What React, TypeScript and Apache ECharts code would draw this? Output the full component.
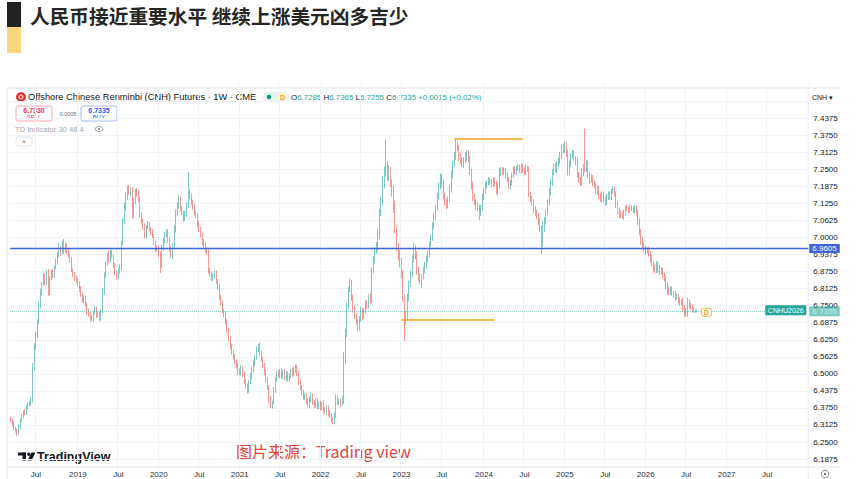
import React, { useEffect, useRef } from 'react';
import * as echarts from 'echarts';

// Weekly closes (CNH futures), grouped by year
const close2018 = [6.330,6.318,6.300,6.292,6.285,6.305,6.330,6.345,6.362,6.355, 6.378,6.392,6.388,6.405,6.520,6.600,6.640,6.690,6.750,6.800, 6.830,6.860,6.835,6.870,6.800,6.850,6.875,6.860,6.890,6.910, 6.935,6.960,6.945,6.975,6.955,6.970,6.950,6.935,6.920,6.880, 6.865,6.850,6.840];
const close2019 = [6.830,6.810,6.790,6.770,6.780,6.755,6.730,6.720,6.705,6.700, 6.725,6.740,6.715,6.720,6.705,6.730,6.800,6.860,6.905,6.935, 6.920,6.945,6.930,6.900,6.870,6.855,6.880,6.890,6.980,7.060, 7.110,7.150,7.180,7.165,7.175,7.080,7.130,7.170,7.160,7.140, 7.085,7.060,7.040,7.005,7.040,7.050,7.030,7.020,7.005,6.980, 6.965,6.960];
const close2020 = [6.940,6.900,6.960,6.990,7.010,7.020,6.990,6.960,6.940,6.970, 7.030,7.090,7.120,7.140,7.105,7.090,7.070,7.085,7.120,7.160, 7.150,7.130,7.110,7.090,7.080,7.050,7.030,7.010,6.985,6.970, 6.955,6.945,6.880,6.865,6.850,6.860,6.870,6.840,6.820,6.780, 6.760,6.730,6.720,6.690,6.660,6.630,6.600,6.580,6.560,6.545, 6.530,6.510];
const close2021 = [6.505,6.520,6.500,6.470,6.455,6.440,6.470,6.490,6.515,6.540, 6.560,6.590,6.600,6.575,6.555,6.530,6.505,6.480,6.450,6.410, 6.385,6.395,6.440,6.480,6.500,6.495,6.510,6.490,6.505,6.485, 6.500,6.480,6.495,6.510,6.500,6.515,6.525,6.500,6.470,6.450, 6.430,6.415,6.420,6.400,6.385,6.405,6.420,6.395,6.385,6.400, 6.380,6.390];
const close2022 = [6.375,6.390,6.370,6.360,6.375,6.355,6.345,6.330,6.325,6.350, 6.410,6.395,6.400,6.390,6.410,6.560,6.650,6.750,6.810,6.830, 6.780,6.740,6.710,6.690,6.670,6.700,6.730,6.710,6.730,6.760, 6.750,6.780,6.770,6.880,6.920,6.950,6.970,7.010,7.090,7.130, 7.200,7.240,7.250,7.230,7.240,7.200,7.170,7.120,7.030,6.970, 6.940,6.910];
const close2023 = [6.870,6.780,6.700,6.710,6.780,6.830,6.870,6.920,6.960,6.940, 6.880,6.860,6.840,6.855,6.880,6.900,6.920,6.940,6.975,7.000, 7.040,7.080,7.110,7.150,7.190,7.220,7.200,7.150,7.130,7.120, 7.140,7.180,7.230,7.270,7.300,7.340,7.330,7.300,7.285,7.270, 7.285,7.300,7.310,7.290,7.240,7.190,7.150,7.130,7.120,7.110, 7.090,7.110];
const close2024 = [7.150,7.170,7.190,7.200,7.210,7.205,7.195,7.210,7.200,7.170, 7.190,7.240,7.250,7.240,7.245,7.230,7.210,7.190,7.200,7.230, 7.250,7.240,7.255,7.260,7.245,7.260,7.250,7.240,7.255,7.250, 7.160,7.140,7.130,7.100,7.090,7.080,7.060,7.030,6.980,7.040, 7.060,7.090,7.130,7.170,7.200,7.240,7.260,7.250,7.270,7.280, 7.300,7.330];
const close2025 = [7.320,7.340,7.310,7.240,7.270,7.300,7.310,7.290,7.280,7.230, 7.210,7.200,7.240,7.260,7.250,7.270,7.230,7.210,7.220,7.200, 7.190,7.170,7.180,7.150,7.140,7.160,7.140,7.130,7.150,7.160, 7.150,7.170,7.175,7.160,7.120,7.100,7.090,7.085,7.080,7.090, 7.110,7.105,7.100,7.110,7.105,7.100,7.110,7.090,7.060,7.020, 6.990,6.970];
const close2026 = [6.960,6.950,6.955,6.940,6.920,6.905,6.890,6.880,6.900,6.890, 6.875,6.880,6.860,6.850,6.820,6.810,6.800,6.810,6.795,6.790, 6.780,6.785,6.770,6.760,6.765,6.740,6.730,6.720,6.760,6.750, 6.745,6.735,6.730,6.7285,6.7335];

// Upper / lower wick lengths beyond the body, in thousandths
const hiWick2018 = [8,6,10,5,7,9,6,8,5,10, 7,6,9,8,20,12,15,10,14,12, 9,11,8,10,15,9,7,10,8,12, 10,18,9,14,20,12,8,10,7,9, 6,8,10];
const loWick2018 = [6,10,8,7,12,5,8,6,9,7, 5,8,6,7,10,8,12,9,8,10, 12,7,9,8,15,10,6,9,8,7, 10,8,12,6,15,9,10,8,12,7, 10,9,8];
const hiWick2019 = [10,8,12,7,9,6,8,10,7,9, 6,8,7,10,8,6,15,12,10,8, 14,9,11,8,7,10,9,12,8,10, 18,15,10,12,8,10,14,9,11,12, 10,8,9,12,7,10,8,9,11,8, 10,7];
const loWick2019 = [8,10,7,9,12,8,15,10,12,8, 9,7,10,8,12,9,7,10,8,9, 12,10,8,11,9,10,7,12,10,8, 9,10,12,8,15,9,10,8,12,9, 11,10,12,8,10,9,8,10,7,9, 20,10];
const hiWick2020 = [10,8,12,9,10,8,12,10,9,11, 15,12,10,14,9,10,8,12,10,80, 15,10,9,12,8,10,12,9,8,10, 11,9,12,8,10,9,12,10,8,11, 10,9,8,10,12,9,8,10,9,12, 8,10];
const loWick2020 = [12,30,10,9,12,8,10,12,15,20, 10,12,9,15,10,8,12,10,9,11, 10,12,8,10,9,12,10,8,15,12, 10,9,12,10,8,9,11,10,12,9, 10,8,12,10,9,11,12,10,8,9, 10,12];
const hiWick2021 = [10,12,8,9,11,10,8,12,9,10, 8,12,10,15,9,8,10,12,9,8, 10,7,12,9,10,15,8,10,9,12, 8,10,7,9,12,10,8,9,11,10, 8,12,10,9,8,10,12,9,8,10, 11,9];
const loWick2021 = [9,10,12,8,10,12,9,8,10,9, 12,8,10,9,11,8,10,12,9,15, 10,12,8,10,9,7,12,8,10,9, 11,8,10,12,9,8,10,9,12,10, 8,9,12,10,8,11,10,9,12,8, 10,9];
const hiWick2022 = [10,8,12,9,10,8,12,9,10,8, 15,10,9,12,10,20,15,12,10,20, 15,10,12,9,10,12,15,10,12,9, 10,12,15,10,12,15,14,20,15,18, 25,20,110,30,25,20,15,20,15,12, 10,15];
const loWick2022 = [10,8,12,9,10,12,8,8,10,9, 12,10,9,12,8,20,25,15,12,10, 12,15,10,9,12,10,8,12,10,9, 12,10,15,10,12,15,10,20,15,12, 15,20,15,20,25,15,20,30,15,20, 25,20];
const hiWick2023 = [15,10,12,20,15,12,10,15,20,12, 10,12,9,10,12,10,15,12,10,12, 15,12,10,14,12,15,12,10,15,12, 10,12,15,12,14,20,15,10,12,9, 10,15,12,10,8,12,15,10,12,10, 12,10];
const loWick2023 = [20,15,80,20,15,12,10,15,12,20, 15,20,12,25,10,12,15,10,12,10, 12,10,15,12,10,12,15,10,12,15, 12,10,15,12,10,15,12,20,15,12, 15,12,20,15,10,12,15,12,20,15, 25,12];
const hiWick2024 = [12,10,15,10,12,8,10,12,9,10, 12,15,10,8,12,10,9,12,10,8, 10,12,8,10,9,12,10,8,12,9, 10,8,12,10,15,12,10,12,15,20, 15,12,10,12,15,10,12,14,10,12, 15,12];
const loWick2024 = [10,12,8,10,9,12,10,8,12,10, 15,10,12,9,10,12,8,10,12,9, 10,8,12,10,9,10,12,8,10,9, 12,10,15,12,10,12,15,10,40,15, 20,12,10,12,15,10,12,10,15,12, 10,12];
const hiWick2025 = [15,12,10,12,15,10,12,10,9,12, 10,12,15,10,140,15,12,10,12,9, 10,12,9,10,12,10,8,10,12,9, 10,8,12,10,9,12,10,8,10,12, 9,10,8,12,10,9,10,8,12,10, 12,10];
const loWick2025 = [12,10,15,12,10,12,9,10,15,12, 10,12,10,15,12,10,12,15,10,12, 9,10,12,10,9,12,10,15,10,12, 10,12,9,10,12,15,20,12,10,15, 10,9,12,10,8,10,12,10,15,12, 15,12];
const hiWick2026 = [12,10,9,12,10,15,10,12,15,12, 10,12,9,10,12,15,10,12,9,10, 12,10,9,12,10,15,12,10,20,12, 10,9,8,6,3];
const loWick2026 = [10,12,9,10,12,10,15,12,10,20, 12,10,9,12,10,20,12,10,9,12, 10,8,12,10,9,12,20,10,12,10, 8,9,6,5,3];

const firstOpen = 6.335;
const startMonday = Date.UTC(2018, 2, 5);
const totalWeeks = 513;
const lastLabelledYear = 2027;
const julyLabel = 'Jul';

const hLine = 6.9605;
const lastPrice = 6.7335;
const resistance = 7.3616;
const support = 6.700;

const yTickLabels = ['7.4375','7.3750','7.3125','7.2500','7.1875','7.1250','7.0625','7.0000','6.9375','6.8750','6.8125','6.7500','6.6875','6.6250','6.5625','6.5000','6.4375','6.3750','6.3125','6.2500','6.1875'];

const closes = [...close2018, ...close2019, ...close2020, ...close2021, ...close2022, ...close2023, ...close2024, ...close2025, ...close2026];
const hiW = [...hiWick2018, ...hiWick2019, ...hiWick2020, ...hiWick2021, ...hiWick2022, ...hiWick2023, ...hiWick2024, ...hiWick2025, ...hiWick2026];
const loW = [...loWick2018, ...loWick2019, ...loWick2020, ...loWick2021, ...loWick2022, ...loWick2023, ...loWick2024, ...loWick2025, ...loWick2026];

const DAY = 86400000;
const weeks = Array.from({ length: totalWeeks }, (_, k) => new Date(startMonday + k * 7 * DAY));
const cats = weeks.map((d) => d.toISOString().slice(0, 10));
const tickText = weeks.map((d) => {
  const end = new Date(d.getTime() + 6 * DAY);
  let m = -1;
  let y = 0;
  if (d.getUTCDate() === 1) { m = d.getUTCMonth(); y = d.getUTCFullYear(); }
  else if (end.getUTCMonth() !== d.getUTCMonth()) { m = end.getUTCMonth(); y = end.getUTCFullYear(); }
  if (y > lastLabelledYear) return '';
  if (m === 0) return String(y);
  if (m === 6) return julyLabel;
  return '';
});

const candles = closes.map((c, i) => {
  const o = i === 0 ? firstOpen : closes[i - 1];
  const top = Math.max(o, c);
  const bot = Math.min(o, c);
  return [o, c, +(bot - loW[i] / 1000).toFixed(4), +(top + hiW[i] / 1000).toFixed(4)];
});

const UP = '#26a69a';
const DOWN = '#ef5350';
const BLUE = '#3f63d8';
const ORANGE = '#f5a623';
const GRID = '#f0f3fa';
const BORDER = '#e0e3eb';
const TXT = '#131722';
const SANS = '"Liberation Sans", Arial, sans-serif';

export default function App() {
  const ref = useRef<HTMLDivElement>(null);
  useEffect(() => {
    if (!ref.current) return;
    const chart = echarts.init(ref.current, undefined, { renderer: 'svg' });
    const splitColors = Array.from({ length: 24 }, (_, k) => (k === 0 || k === 23 ? 'rgba(0,0,0,0)' : GRID));
    const t = (x: number, y: number, text: string, fill: string, font: string, align = 'left') => ({
      type: 'text', x, y, silent: true,
      style: { text, fill, font, textAlign: align, textVerticalAlign: 'middle', align, verticalAlign: 'middle' },
    });
    const option: any = {
      animation: false,
      backgroundColor: '#ffffff',
      grid: [
        { left: 10.2, right: 56.7, top: 84.2, height: 391.9 },
        { left: 10.2, right: 56.7, top: 466, height: 1 },
      ],
      xAxis: [
        {
          type: 'category', gridIndex: 0, data: cats, boundaryGap: true,
          axisLine: { show: false }, axisTick: { show: false }, axisLabel: { show: false },
          splitLine: { show: true, interval: (i: number) => tickText[i] !== '', lineStyle: { color: GRID, width: 1 } },
        },
        {
          type: 'category', gridIndex: 1, data: cats, boundaryGap: true,
          axisLine: { show: false }, axisTick: { show: false }, splitLine: { show: false },
          axisLabel: {
            interval: (i: number) => tickText[i] !== '',
            formatter: (_v: string, i: number) => tickText[i],
            fontSize: 8, color: '#2a2e39', margin: 3.5, fontFamily: SANS,
          },
        },
      ],
      yAxis: [
        {
          type: 'value', gridIndex: 0, position: 'right', min: 6.125, max: 7.5625, interval: 0.0625,
          axisLine: { show: false }, axisTick: { show: false },
          axisLabel: {
            formatter: (v: number) => {
              const s = v.toFixed(4);
              return yTickLabels.includes(s) ? s : '';
            },
            fontSize: 8, color: TXT, margin: 5, fontFamily: SANS,
          },
          splitLine: { show: true, lineStyle: { color: splitColors, width: 1 } },
        },
        { type: 'value', gridIndex: 1, show: false },
      ],
      series: [
        {
          type: 'candlestick', xAxisIndex: 0, yAxisIndex: 0, data: candles,
          barWidth: '80%', z: 3,
          itemStyle: { color: UP, color0: DOWN, borderColor: UP, borderColor0: DOWN, borderWidth: 0.6 },
          markLine: {
            symbol: 'none', silent: true, animation: false,
            data: [
              {
                yAxis: hLine,
                lineStyle: { color: BLUE, width: 1.4, type: 'solid' },
                label: { show: true, position: 'end', distance: 1, formatter: hLine.toFixed(4), backgroundColor: BLUE, color: '#fff', padding: [0, 3], lineHeight: 9, fontSize: 8, fontFamily: SANS },
              },
              {
                yAxis: lastPrice,
                lineStyle: { color: UP, width: 1, type: 'dotted', opacity: 0.6 },
                label: { show: true, position: 'end', distance: 1, formatter: lastPrice.toFixed(4), backgroundColor: UP, color: '#fff', padding: [1, 3], fontSize: 8, fontFamily: SANS },
              },
              [
                { coord: [cats[285], resistance], lineStyle: { color: ORANGE, width: 1.5, type: 'solid' }, label: { show: false } },
                { coord: [cats[329], resistance] },
              ],
              [
                { coord: [cats[251], support], lineStyle: { color: ORANGE, width: 1.5, type: 'solid' }, label: { show: false } },
                { coord: [cats[311], support] },
              ],
            ],
          },
          markPoint: {
            silent: true, animation: false,
            data: [
              {
                coord: [cats[498], lastPrice], symbol: 'rect', symbolSize: [41, 10],
                itemStyle: { color: UP },
                label: { show: true, formatter: 'CNHU2026', color: '#fff', fontSize: 7, fontFamily: SANS },
              },
              {
                coord: [cats[447], 6.726], symbol: 'roundRect', symbolSize: [10, 8],
                itemStyle: { color: '#fff7e6', borderColor: ORANGE, borderWidth: 0.8 },
                label: { show: true, formatter: 'D', color: ORANGE, fontSize: 6.5, fontWeight: 'bold', fontFamily: SANS },
              },
            ],
          },
        },
      ],
      graphic: [
        // header
        { type: 'rect', silent: true, shape: { x: 7, y: 2, width: 14, height: 25 }, style: { fill: '#222222' } },
        { type: 'rect', silent: true, shape: { x: 7, y: 27, width: 14, height: 26 }, style: { fill: '#f9d77e' } },
        t(30, 15.5, '人民币接近重要水平 继续上涨美元凶多吉少', '#262626', 'bold 19.7px "Noto Sans CJK SC", sans-serif'),
        // frame
        { type: 'line', silent: true, shape: { x1: 7, y1: 88, x2: 840, y2: 88 }, style: { stroke: BORDER, lineWidth: 1 } },
        { type: 'line', silent: true, shape: { x1: 7, y1: 88, x2: 7, y2: 479 }, style: { stroke: BORDER, lineWidth: 1 } },
        { type: 'line', silent: true, shape: { x1: 7, y1: 467, x2: 840, y2: 467 }, style: { stroke: BORDER, lineWidth: 1 } },
        { type: 'line', silent: true, shape: { x1: 808.3, y1: 88, x2: 808.3, y2: 479 }, style: { stroke: BORDER, lineWidth: 1 } },
        t(812, 97, 'CNH ▾', TXT, `7px ${SANS}`),
        // legend line
        { type: 'circle', silent: true, shape: { cx: 21, cy: 97, r: 5 }, style: { fill: '#e53935' } },
        { type: 'circle', silent: true, shape: { cx: 21, cy: 97, r: 2 }, style: { fill: 'none', stroke: '#fff', lineWidth: 1 } },
        t(28, 97, 'Offshore Chinese Renminbi (CNH) Futures · 1W · CME', TXT, `9.3px ${SANS}`),
        { type: 'rect', silent: true, shape: { x: 263, y: 92, width: 26, height: 10, r: 5 }, style: { fill: '#e6f4f1' } },
        { type: 'circle', silent: true, shape: { cx: 269, cy: 97, r: 2.2 }, style: { fill: '#089981' } },
        { type: 'circle', silent: true, shape: { cx: 282.5, cy: 97, r: 4.5 }, style: { fill: '#fdebc8' } },
        t(282.5, 97.3, 'D', ORANGE, `bold 7px ${SANS}`, 'center'),
        {
          type: 'text', x: 291, y: 97, silent: true,
          style: {
            text: '{l|O}{v|6.7285} {l|H}{v|6.7365} {l|L}{v|6.7255} {l|C}{v|6.7335} {v|+0.0015 (+0.02%)}',
            textVerticalAlign: 'middle', verticalAlign: 'middle', font: `7.9px ${SANS}`,
            rich: {
              l: { fill: TXT, color: TXT, fontSize: 7.9, fontFamily: SANS },
              v: { fill: UP, color: UP, fontSize: 7.9, fontFamily: SANS },
            },
          },
        },
        // sell / buy
        { type: 'rect', silent: true, shape: { x: 16, y: 106, width: 36, height: 15, r: 2 }, style: { fill: '#fff', stroke: '#f5a8ae', lineWidth: 1 } },
        t(34, 110.5, '6.7330', '#f23645', `bold 7px ${SANS}`, 'center'),
        t(34, 117, 'SELL', '#f23645', `6px ${SANS}`, 'center'),
        t(68, 113.5, '0.0005', '#6a6d78', `5.5px ${SANS}`, 'center'),
        { type: 'rect', silent: true, shape: { x: 81, y: 106, width: 36, height: 15, r: 2 }, style: { fill: '#fff', stroke: '#a9bdf5', lineWidth: 1 } },
        t(99, 110.5, '6.7335', '#2962ff', `bold 7px ${SANS}`, 'center'),
        t(99, 117, 'BUY', '#2962ff', `6px ${SANS}`, 'center'),
        t(15, 129, 'TD Indicator 30 48 4', '#a3a6af', `7.6px ${SANS}`),
        { type: 'ellipse', silent: true, shape: { cx: 99, cy: 129, rx: 3.8, ry: 2.6 }, style: { fill: 'none', stroke: '#8a8d96', lineWidth: 0.8 } },
        { type: 'circle', silent: true, shape: { cx: 99, cy: 129, r: 1.1 }, style: { fill: '#8a8d96' } },
        { type: 'rect', silent: true, shape: { x: 16, y: 137, width: 16, height: 9, r: 2 }, style: { fill: '#fff', stroke: BORDER, lineWidth: 1 } },
        t(24, 142.5, '^', TXT, `7px ${SANS}`, 'center'),
        // TradingView logo
        { type: 'rect', silent: true, shape: { x: 18, y: 452.5, width: 8, height: 3 }, style: { fill: TXT } },
        { type: 'rect', silent: true, shape: { x: 22.5, y: 452.5, width: 3.5, height: 8 }, style: { fill: TXT } },
        { type: 'circle', silent: true, shape: { cx: 28.8, cy: 454.2, r: 1.7 }, style: { fill: TXT } },
        { type: 'polygon', silent: true, shape: { points: [[31.5, 452.5], [35.5, 452.5], [31.5, 460.5], [27.5, 460.5]] }, style: { fill: TXT } },
        t(37, 456.5, 'TradingView', TXT, `bold 12.5px ${SANS}`),
        t(236, 451, '图片来源：Trading view', '#e2443e', '16px "Noto Sans CJK SC", sans-serif'),
        // bottom right icon
        { type: 'circle', silent: true, shape: { cx: 825, cy: 474, r: 3.8 }, style: { fill: 'none', stroke: '#6a6d78', lineWidth: 0.8 } },
        { type: 'circle', silent: true, shape: { cx: 825, cy: 474, r: 1.2 }, style: { fill: '#6a6d78' } },
      ],
    };
    chart.setOption(option);
    return () => chart.dispose();
  }, []);
  return (
    <div
      ref={ref}
      style={{ position: 'fixed', left: 0, top: 0, width: 865, height: 479, background: '#fff' }}
    />
  );
}
